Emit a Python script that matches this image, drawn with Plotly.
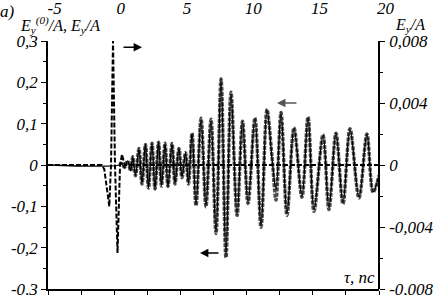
import plotly.graph_objects as go

# ---------------- data ----------------
# solid curve (left axis, E_y/A)
tau_solid = [-5.0, 0.40, 0.55, 0.78, 1.01, 1.24, 1.40, 1.61, 1.87, 2.10, 2.36, 2.59, 2.855, 3.08,
             3.35, 3.57, 3.84, 4.06, 4.37, 4.59, 4.89, 5.12, 5.385, 5.61, 5.88, 6.18, 6.56, 6.93,
             7.31, 7.69, 8.07, 8.44, 8.82, 9.28, 9.69, 10.11, 10.63, 11.09, 11.54, 11.92, 12.22,
             12.60, 13.05, 13.58, 14.18, 14.64, 15.09, 15.77, 16.22, 16.75, 17.28, 17.81, 18.49,
             19.09, 19.55, 20.0]
e_solid = [0.0, 0.0, 0.004, -0.006, 0.010, -0.014, 0.020, -0.025, 0.040, -0.045, 0.050, -0.055, 0.053, -0.058,
           0.055, -0.050, 0.053, -0.052, 0.053, -0.045, 0.040, -0.030, 0.030, -0.045, 0.077, -0.097, 0.114, -0.100,
           0.111, -0.165, 0.210, -0.222, 0.177, -0.121, 0.106, -0.092, 0.114, -0.150, 0.135, 0.015, -0.060,
           0.128, -0.119, 0.090, -0.077, 0.116, -0.109, 0.073, -0.104, 0.077, -0.092, 0.087, -0.078,
           0.075, -0.065, -0.025]

# marker curve (left axis)
tau_mark = [0.40, 0.55, 0.78, 1.01, 1.24, 1.40, 1.61, 1.87, 2.10, 2.36, 2.59, 2.855, 3.08,
            3.35, 3.57, 3.84, 4.06, 4.37, 4.59, 4.89, 5.12, 5.385, 5.61, 5.88, 6.18, 6.56, 6.93,
            7.31, 7.69, 8.07, 8.44, 8.82, 9.28, 9.69, 10.11, 10.63, 11.09, 11.54, 11.92, 12.22,
            12.60, 13.05, 13.58, 14.18, 14.64, 15.09, 15.77, 16.22, 16.75, 17.28, 17.81, 18.49,
            19.09, 19.55, 20.0]
e_mark = [0.0, 0.004, -0.006, 0.010, -0.014, 0.020, -0.026, 0.040, -0.046, 0.050, -0.056, 0.053, -0.058,
          0.055, -0.051, 0.053, -0.052, 0.052, -0.046, 0.040, -0.031, 0.030, -0.046, 0.077, -0.098, 0.113, -0.101,
          0.111, -0.166, 0.208, -0.224, 0.176, -0.122, 0.106, -0.093, 0.114, -0.151, 0.134, 0.020, -0.085,
          0.127, -0.122, 0.090, -0.078, 0.116, -0.112, 0.073, -0.108, 0.077, -0.094, 0.088, -0.080,
          0.075, -0.066, -0.025]

# dashed incident pulse (right axis, E_y^(0)/A)
tau_inc = [-5.0, -0.95, -0.75, -0.37, -0.24, -0.09, 0.06, 0.25, 0.44, 0.59, 0.78, 20.0]
e_inc = [0.0, 0.0, -0.00027, -0.00267, 0.0, 0.0080, 0.0, -0.00568, 0.0, 0.00069, 0.0, 0.0]

left_tickvals = [-0.3, -0.2, -0.1, 0.0, 0.1, 0.2, 0.3]
left_ticktext = ["-0,3", "-0,2", "-0,1", "0", "0,1", "0,2", "0,3"]
left_minor = [-0.25, -0.15, -0.05, 0.05, 0.15, 0.25]
right_tickvals = [-0.008, -0.004, 0.0, 0.004, 0.008]
right_ticktext = ["-0,008", "-0,004", "0", "0,004", "0,008"]
right_minor = [-0.006, -0.002, 0.002, 0.006]
bottom_tickvals = [-5, -2.5, 0, 2.5, 5, 7.5, 10, 12.5, 15, 17.5, 20]
top_tickvals = [-5, 0, 5, 10, 15, 20]
top_ticktext = ["-5", "0", "5", "10", "15", "20"]

# ---------------- layout geometry ----------------
W, H = 440, 295
PL, PR, PT, PB = 48, 392, 41, 289   # plot-area pixel box (outer)
AXR = 379                           # right y-axis pixel position
d = (AXR - PL) / (PR - PL)

def px(x):
    return (x - PL) / (PR - PL)

def py(y):
    return (PB - y) / (PB - PT)

FONT = "Liberation Serif"
tickfont = dict(family=FONT, size=17, color="black", style="italic")

fig = go.Figure()

fig.add_trace(go.Scatter(x=tau_mark, y=e_mark, mode="lines", line_shape="spline",
                         line=dict(color="#505050", width=3.4, dash="4px,1.2px"),
                         hoverinfo="skip", showlegend=False))
fig.add_trace(go.Scatter(x=tau_solid, y=e_solid, mode="lines", line_shape="spline",
                         line=dict(color="black", width=1.3),
                         hoverinfo="skip", showlegend=False))
fig.add_trace(go.Scatter(x=tau_inc, y=e_inc, mode="lines", yaxis="y2",
                         line=dict(color="black", width=2.0, dash="5px,2px"),
                         hoverinfo="skip", showlegend=False))
# helper trace so the top label axis gets drawn
fig.add_trace(go.Scatter(x=[0], y=[0], xaxis="x2", mode="markers",
                         marker=dict(opacity=0), hoverinfo="skip", showlegend=False))

fig.update_layout(
    width=W, height=H, autosize=False,
    margin=dict(l=PL, r=W - PR, t=PT, b=H - PB, pad=0, autoexpand=False),
    paper_bgcolor="white", plot_bgcolor="rgba(0,0,0,0)",
    showlegend=False,
    xaxis=dict(domain=[0, d], range=[-5, 20], showgrid=False, zeroline=False, automargin=False,
               showline=True, linecolor="black", linewidth=1.5,
               tickmode="array", tickvals=bottom_tickvals, showticklabels=False,
               ticks="outside", ticklen=4, tickwidth=1.2, tickcolor="black"),
    xaxis2=dict(domain=[0, 1], range=[-5.5, -5.5 + (PR - PL) / 13.24], anchor="y", side="top",
                showgrid=False, zeroline=False, showline=False, ticks="", automargin=False,
                tickmode="array", tickvals=top_tickvals, ticktext=top_ticktext,
                tickfont=tickfont, ticklabelstandoff=23, ticklabeloverflow="allow"),
    yaxis=dict(range=[-0.3, 0.3], showgrid=False, zeroline=False, automargin=False,
               showline=True, linecolor="black", linewidth=1.5,
               tickmode="array", tickvals=left_tickvals, ticktext=left_ticktext,
               ticks="outside", ticklen=5, tickwidth=1.2, tickcolor="black",
               tickfont=tickfont, ticklabeloverflow="allow",
               minor=dict(tickmode="array", tickvals=left_minor, ticks="outside",
                          ticklen=3, tickwidth=1.2, tickcolor="black")),
    yaxis2=dict(range=[-0.008, 0.008], overlaying="y", anchor="free", position=d, side="right",
                showgrid=False, zeroline=False, automargin=False,
                showline=True, linecolor="black", linewidth=1.5,
                tickmode="array", tickvals=right_tickvals, ticktext=right_ticktext,
                ticks="outside", ticklen=5, tickwidth=1.2, tickcolor="black",
                tickfont=tickfont, ticklabelstandoff=1, ticklabeloverflow="allow",
                minor=dict(tickmode="array", tickvals=right_minor, ticks="outside",
                           ticklen=3, tickwidth=1.2, tickcolor="black")),
)

txtfont = dict(family=FONT, size=17, color="black", style="italic")
titlefont = dict(family=FONT, size=16, color="black", style="italic")
fig.add_annotation(x=px(7), y=py(11), xref="paper", yref="paper", text="a)",
                   showarrow=False, font=txtfont, xanchor="center", yanchor="middle")
fig.add_annotation(x=px(60), y=py(25), xref="paper", yref="paper",
                   text="E<sub>y</sub><sup>(0)</sup>/A, E<sub>y</sub>/A",
                   showarrow=False, font=titlefont, xanchor="center", yanchor="middle")
fig.add_annotation(x=px(410), y=py(25), xref="paper", yref="paper",
                   text="E<sub>y</sub>/A",
                   showarrow=False, font=titlefont, xanchor="center", yanchor="middle")
fig.add_annotation(x=px(377), y=py(277), xref="paper", yref="paper",
                   text="τ, пс",
                   showarrow=False, font=txtfont, xanchor="right", yanchor="middle")

# arrows
for (xh, yh, xt, col) in [(2.10, 0.285, 0.59, "black"),
                          (12.30, 0.150, 13.88, "#555555"),
                          (6.48, -0.213, 7.99, "black")]:
    fig.add_annotation(x=xh, y=yh, ax=xt, ay=yh, xref="x", yref="y", axref="x", ayref="y",
                       text="", showarrow=True, arrowhead=2, arrowsize=1.2,
                       arrowwidth=1.4, arrowcolor=col, standoff=0)

fig.write_html("out.html", config={"displayModeBar": False},
               post_script="document.body.style.margin='0';document.body.style.overflow='hidden';")
